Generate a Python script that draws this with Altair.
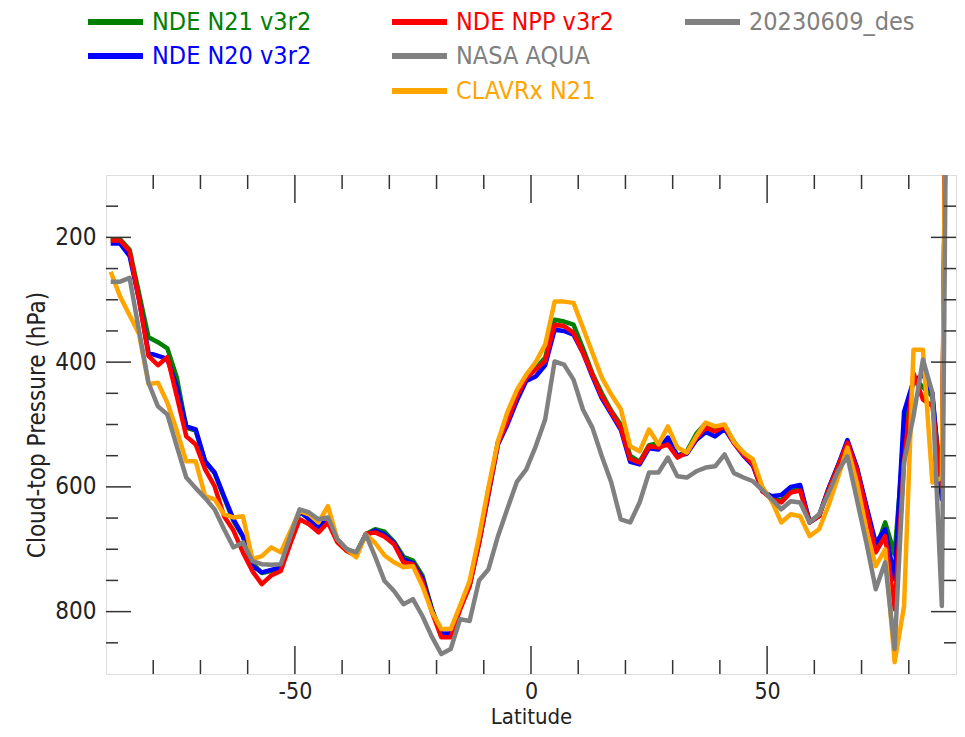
import altair as alt
import pandas as pd

# ---------------- data ----------------
lats = list(range(-89, 90, 2))

nde_n21 = [203, 203, 220, 290, 360, 368, 378, 425, 505, 510,
           560, 578, 617, 655, 680, 722, 738, 735, 730, 683,
           640, 650, 662, 652, 686, 702, 706, 676, 668, 672,
           688, 712, 718, 742, 795, 838, 838, 795, 758, 688,
           608, 528, 492, 452, 423, 410, 393, 332, 335, 340,
           378, 418, 450, 478, 500, 550, 560, 533, 530, 527,
           550, 543, 515, 498, 505, 503, 528, 548, 562, 605,
           618, 622, 606, 604, 655, 646, 603, 566, 530, 570,
           632, 700, 657, 708, 520, 425, 440, 455, 610, -999]

nde_n20 = [210, 210, 230, 300, 385, 390, 395, 440, 503, 508,
           559, 577, 615, 652, 679, 727, 737, 733, 729, 682,
           639, 652, 665, 650, 685, 700, 706, 678, 670, 676,
           690, 716, 722, 746, 797, 835, 835, 793, 757, 690,
           612, 532, 500, 462, 430, 423, 405, 348, 350, 356,
           385, 423, 458, 483, 508, 560, 564, 538, 540, 521,
           550, 547, 525, 512, 519, 507, 530, 550, 566, 607,
           615, 613, 600, 597, 657, 647, 603, 566, 525, 568,
           630, 690, 668, 748, 480, 430, 420, 450, 620, -999]

nde_npp = [205, 205, 222, 300, 390, 405, 392, 455, 519, 532,
           572, 599, 647, 670, 705, 735, 756, 742, 735, 692,
           652, 660, 673, 657, 689, 703, 711, 675, 673, 680,
           692, 721, 724, 751, 800, 841, 841, 796, 759, 690,
           610, 530, 495, 455, 425, 412, 398, 340, 342, 353,
           385, 420, 455, 480, 505, 555, 561, 535, 537, 532,
           553, 545, 522, 505, 511, 503, 530, 548, 564, 607,
           620, 625, 609, 606, 657, 647, 605, 568, 529, 572,
           636, 705, 679, 796, 560, 418, 460, 470, 600, -999]

nasa_aqua = [271, 271, 265, 350, 433, 471, 484, 535, 585, 602,
             618, 636, 668, 697, 689, 719, 724, 725, 724, 680,
             636, 641, 652, 649, 684, 700, 705, 676, 712, 751,
             767, 788, 780, 807, 840, 868, 860, 812, 815, 750,
             732, 679, 635, 592, 572, 535, 492, 399, 404, 428,
             476, 505, 551, 593, 652, 657, 625, 577, 577, 553,
             583, 585, 575, 569, 567, 548, 578, 585, 591, 605,
             620, 636, 623, 625, 657, 644, 610, 575, 551, 620,
             689, 764, 721, 860, 560, 487, 396, 449, 791, -999]

clavrx_n21 = [255, 295, 325, 355, 435, 433, 465, 510, 559, 559,
              615, 620, 644, 649, 647, 716, 711, 697, 705, 672,
              639, 644, 657, 631, 684, 700, 713, 676, 690, 710,
              721, 729, 727, 759, 800, 828, 828, 790, 751, 680,
              600, 527, 480, 445, 420, 400, 372, 303, 303, 305,
              345, 385, 425, 452, 475, 535, 543, 508, 532, 503,
              537, 545, 519, 497, 503, 500, 528, 545, 556, 600,
              623, 657, 644, 647, 679, 668, 630, 585, 537, 593,
              668, 727, 700, 881, 791, 380, 380, 593, 585, -999]

series_names = ["NDE N21 v3r2", "NDE N20 v3r2", "NDE NPP v3r2", "NASA AQUA", "CLAVRx N21"]
series_values = [nde_n21, nde_n20, nde_npp, nasa_aqua, clavrx_n21]
series_colors = ["#008000", "#0000ff", "#ff0000", "#808080", "#ffa500"]
draw_order = ["NDE N21 v3r2", "NDE N20 v3r2", "NDE NPP v3r2", "CLAVRx N21", "NASA AQUA"]

legend_labels = ["NDE N21 v3r2", "NDE N20 v3r2", "NDE NPP v3r2", "NASA AQUA", "CLAVRx N21", "20230609_des"]
legend_colors = ["#008000", "#0000ff", "#ff0000", "#808080", "#ffa500", "#808080"]

x_major = [-50, 0, 50]
x_minor = [-80, -70, -60, -40, -30, -20, -10, 10, 20, 30, 40, 60, 70, 80]
y_major = [200, 400, 600, 800]
y_minor = [150, 250, 300, 350, 450, 500, 550, 650, 700, 750, 850]

# ---------------- layout ----------------
W, H = 850, 499
FONT = "DejaVu Sans Condensed, DejaVu Sans, sans-serif"
FRAME = "#333333"
TXT = "#222222"

xs = alt.Scale(domain=[-90, 90], nice=False, zero=False)
ys = alt.Scale(domain=[100, 900], reverse=True, nice=False, zero=False)

X_AX = alt.Axis(values=x_major, tickSize=0, domain=False, grid=False,
                labelExpr="'' + datum.value",
                labelFont=FONT, labelFontSize=23, labelColor=TXT, labelPadding=6,
                title="Latitude", titleFont=FONT, titleFontSize=22,
                titleFontWeight="normal", titleColor=TXT, titlePadding=3)
Y_AX = alt.Axis(values=y_major, tickSize=0, domain=False, grid=False,
                labelFont=FONT, labelFontSize=24, labelColor=TXT, labelPadding=10,
                title="Cloud-top Pressure (hPa)", titleFont=FONT, titleFontSize=24,
                titleFontWeight="normal", titleColor=TXT, titlePadding=5)

rows = []
for name, vals in zip(series_names, series_values):
    for la, v in zip(lats, vals):
        rows.append({"series": name, "lat": la, "p": v})
df = pd.DataFrame(rows)
color_map = dict(zip(series_names, series_colors))

layers = []
for name in draw_order:
    layers.append(
        alt.Chart(df).transform_filter(alt.datum.series == name)
        .mark_line(color=color_map[name], strokeWidth=4.5, clip=True, strokeJoin="round")
        .encode(x=alt.X("lat:Q", scale=xs, axis=X_AX),
                y=alt.Y("p:Q", scale=ys, axis=Y_AX))
    )

# inward tick marks on all four sides
def xticks(vals, length):
    d = pd.DataFrame({"v": vals})
    bot = alt.Chart(d).mark_rule(color=FRAME, strokeWidth=1.5).encode(
        x=alt.X("v:Q", scale=xs, axis=X_AX), y=alt.value(H), y2=alt.value(H - length))
    top = alt.Chart(d).mark_rule(color=FRAME, strokeWidth=1.5).encode(
        x=alt.X("v:Q", scale=xs, axis=X_AX), y=alt.value(0), y2=alt.value(length))
    return [bot, top]

def yticks(vals, length):
    d = pd.DataFrame({"v": vals})
    left = alt.Chart(d).mark_rule(color=FRAME, strokeWidth=1.5).encode(
        y=alt.Y("v:Q", scale=ys, axis=Y_AX), x=alt.value(0), x2=alt.value(length))
    right = alt.Chart(d).mark_rule(color=FRAME, strokeWidth=1.5).encode(
        y=alt.Y("v:Q", scale=ys, axis=Y_AX), x=alt.value(W), x2=alt.value(W - length))
    return [left, right]

layers += xticks(x_major, 28) + xticks(x_minor, 14) + yticks(y_major, 25) + yticks(y_minor, 12)

# manual legend above the plot (3 columns, column-major)
leg_pos = [(-18, -153), (-18, -119), (286, -153), (286, -119), (286, -84), (579, -153)]
one = pd.DataFrame({"k": [0]})
for lab, col, (lx, ly) in zip(legend_labels, legend_colors, leg_pos):
    layers.append(alt.Chart(one).mark_rule(color=col, strokeWidth=6).encode(
        x=alt.value(lx), x2=alt.value(lx + 55), y=alt.value(ly)))
    layers.append(alt.Chart(one).mark_text(
        text=lab, color=col, font=FONT, fontSize=25, align="left", baseline="middle").encode(
        x=alt.value(lx + 64), y=alt.value(ly)))

chart = alt.layer(*layers).properties(
    width=W, height=H,
    autosize=alt.AutoSizeParams(type="none"),
    padding={"left": 98, "top": 167, "right": 1, "bottom": 55},
).configure_view(stroke=FRAME, strokeWidth=2).configure(background="white")

chart.save("out.html", embed_options={"renderer": "svg", "actions": False})
